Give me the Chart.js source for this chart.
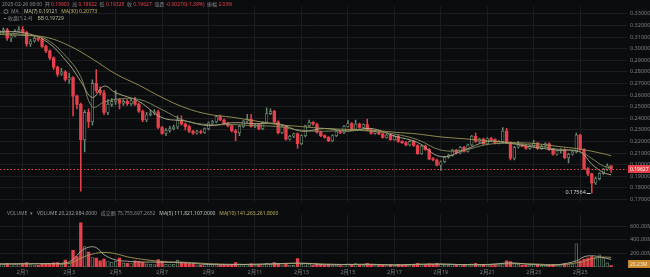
<!DOCTYPE html>
<html>
<head>
<meta charset="utf-8">
<script src="https://cdn.jsdelivr.net/npm/chart.js@4.4.1/dist/chart.umd.min.js"></script>
<style>
  html, body { margin: 0; padding: 0; background: #0b0c0e; }
  #wrap { position: relative; width: 650px; height: 277px; overflow: hidden; }
  #wrap canvas { position: absolute; left: 0; }
</style>
</head>
<body>
<div id="wrap">
  <canvas id="priceChart" width="650" height="208" style="top:0;width:650px;height:208px"></canvas>
  <canvas id="volChart" width="650" height="69" style="top:208px;width:650px;height:69px"></canvas>
</div>
<script>
'use strict';

// 4h candles, index 0 = 2025-01-31 00:00, last = 2025-02-26 08:00
const opens = [
  0.3130, 0.3150, 0.3162, 0.3090, 0.3110, 0.3150, 0.3165, 0.3140, 0.3040, 0.3065,
  0.3090, 0.3080, 0.3020, 0.2980, 0.2920, 0.2840, 0.2780, 0.2800, 0.2735, 0.2750,
  0.2590, 0.2520, 0.2215, 0.2450, 0.2370, 0.2700, 0.2640, 0.2620, 0.2450, 0.2520,
  0.2545, 0.2560, 0.2530, 0.2545, 0.2525, 0.2550, 0.2520, 0.2460, 0.2385, 0.2430,
  0.2445, 0.2455, 0.2320, 0.2270, 0.2295, 0.2310, 0.2325, 0.2380, 0.2350, 0.2328,
  0.2288, 0.2272, 0.2285, 0.2278, 0.2310, 0.2360, 0.2370, 0.2415, 0.2385, 0.2355,
  0.2335, 0.2290, 0.2275, 0.2330, 0.2375, 0.2390, 0.2330, 0.2345, 0.2310, 0.2365,
  0.2440, 0.2460, 0.2370, 0.2275, 0.2330, 0.2220, 0.2245, 0.2265, 0.2180, 0.2250,
  0.2335, 0.2365, 0.2350, 0.2280, 0.2250, 0.2235, 0.2205, 0.2250, 0.2285, 0.2275,
  0.2330, 0.2355, 0.2305, 0.2350, 0.2320, 0.2345, 0.2300, 0.2270, 0.2285, 0.2265,
  0.2235, 0.2255, 0.2215, 0.2245, 0.2200, 0.2190, 0.2170, 0.2200, 0.2165, 0.2095,
  0.2160, 0.2130, 0.2050, 0.2040, 0.1996, 0.2025, 0.2065, 0.2080, 0.2125, 0.2100,
  0.2150, 0.2115, 0.2170, 0.2245, 0.2200, 0.2220, 0.2180, 0.2225, 0.2215, 0.2185,
  0.2200, 0.2290, 0.2190, 0.2055, 0.2150, 0.2170, 0.2160, 0.2140, 0.2160, 0.2185,
  0.2140, 0.2160, 0.2180, 0.2130, 0.2090, 0.2120, 0.2130, 0.2060, 0.2090, 0.2110,
  0.2255, 0.2130, 0.1965, 0.1920, 0.1842, 0.1880, 0.1925, 0.1960, 0.19903
];
const highs = [
  0.3160, 0.3180, 0.3175, 0.3125, 0.3165, 0.3190, 0.3190, 0.3150, 0.3080, 0.3110,
  0.3100, 0.3090, 0.3030, 0.2990, 0.2930, 0.2850, 0.2830, 0.2810, 0.2790, 0.2760,
  0.2600, 0.2530, 0.2470, 0.2480, 0.2730, 0.2820, 0.2670, 0.2640, 0.2560, 0.2570,
  0.2640, 0.2570, 0.2560, 0.2560, 0.2570, 0.2580, 0.2530, 0.2470, 0.2450, 0.2470,
  0.2475, 0.2470, 0.2330, 0.2310, 0.2330, 0.2340, 0.2420, 0.2420, 0.2360, 0.2340,
  0.2295, 0.2295, 0.2295, 0.2318, 0.2368, 0.2382, 0.2425, 0.2428, 0.2395, 0.2365,
  0.2345, 0.2305, 0.2338, 0.2382, 0.2434, 0.2434, 0.2352, 0.2352, 0.2372, 0.2490,
  0.2480, 0.2468, 0.2378, 0.2338, 0.2336, 0.2252, 0.2272, 0.2275, 0.2258, 0.2342,
  0.2385, 0.2372, 0.2358, 0.2288, 0.2258, 0.2242, 0.2258, 0.2292, 0.2292, 0.2338,
  0.2380, 0.2362, 0.2385, 0.2358, 0.2352, 0.2393, 0.2308, 0.2292, 0.2292, 0.2272,
  0.2262, 0.2262, 0.2252, 0.2252, 0.2208, 0.2198, 0.2208, 0.2208, 0.2172, 0.2168,
  0.2168, 0.2138, 0.2062, 0.2048, 0.2032, 0.2072, 0.2088, 0.2132, 0.2132, 0.2158,
  0.2158, 0.2178, 0.2252, 0.2272, 0.2228, 0.2228, 0.2232, 0.2235, 0.2222, 0.2208,
  0.2320, 0.2312, 0.2198, 0.2158, 0.2200, 0.2178, 0.2168, 0.2168, 0.2210, 0.2192,
  0.2168, 0.2188, 0.2188, 0.2138, 0.2128, 0.2138, 0.2138, 0.2098, 0.2118, 0.2272,
  0.2262, 0.2138, 0.1975, 0.1928, 0.1892, 0.1932, 0.1968, 0.2008, 0.19922
];
const lows = [
  0.3120, 0.3130, 0.3070, 0.3060, 0.3100, 0.3140, 0.3130, 0.3020, 0.3020, 0.3055,
  0.3065, 0.3010, 0.2965, 0.2905, 0.2820, 0.2760, 0.2770, 0.2720, 0.2700, 0.2420,
  0.2480, 0.1772, 0.2110, 0.2320, 0.2340, 0.2620, 0.2600, 0.2430, 0.2430, 0.2500,
  0.2520, 0.2480, 0.2510, 0.2510, 0.2510, 0.2510, 0.2450, 0.2370, 0.2370, 0.2420,
  0.2430, 0.2310, 0.2260, 0.2250, 0.2280, 0.2300, 0.2310, 0.2340, 0.2300, 0.2275,
  0.2260, 0.2262, 0.2268, 0.2270, 0.2300, 0.2350, 0.2362, 0.2378, 0.2348, 0.2325,
  0.2282, 0.2207, 0.2250, 0.2320, 0.2365, 0.2322, 0.2318, 0.2300, 0.2302, 0.2355,
  0.2430, 0.2362, 0.2265, 0.2268, 0.2212, 0.2210, 0.2232, 0.2140, 0.2172, 0.2240,
  0.2325, 0.2338, 0.2272, 0.2242, 0.2228, 0.2198, 0.2198, 0.2242, 0.2268, 0.2268,
  0.2322, 0.2298, 0.2298, 0.2312, 0.2312, 0.2292, 0.2262, 0.2262, 0.2258, 0.2228,
  0.2228, 0.2208, 0.2208, 0.2192, 0.2182, 0.2162, 0.2162, 0.2158, 0.2088, 0.2088,
  0.2122, 0.2042, 0.2032, 0.1990, 0.1950, 0.2018, 0.2055, 0.2072, 0.2092, 0.2092,
  0.2108, 0.2108, 0.2162, 0.2192, 0.2192, 0.2172, 0.2172, 0.2208, 0.2178, 0.2178,
  0.2192, 0.2182, 0.2040, 0.2040, 0.2142, 0.2152, 0.2132, 0.2132, 0.2152, 0.2132,
  0.2132, 0.2152, 0.2122, 0.2082, 0.2082, 0.2098, 0.2052, 0.2015, 0.2082, 0.2102,
  0.2122, 0.1958, 0.1905, 0.17564, 0.1830, 0.1868, 0.1915, 0.1950, 0.19325
];
const closes = [
  0.3150, 0.3162, 0.3090, 0.3110, 0.3150, 0.3165, 0.3140, 0.3040, 0.3065, 0.3090,
  0.3080, 0.3020, 0.2980, 0.2920, 0.2840, 0.2780, 0.2800, 0.2735, 0.2750, 0.2590,
  0.2520, 0.2215, 0.2450, 0.2370, 0.2700, 0.2640, 0.2620, 0.2450, 0.2520, 0.2545,
  0.2560, 0.2530, 0.2545, 0.2525, 0.2550, 0.2520, 0.2460, 0.2385, 0.2430, 0.2445,
  0.2455, 0.2320, 0.2270, 0.2295, 0.2310, 0.2325, 0.2380, 0.2350, 0.2328, 0.2288,
  0.2272, 0.2285, 0.2278, 0.2310, 0.2360, 0.2370, 0.2415, 0.2385, 0.2355, 0.2335,
  0.2290, 0.2275, 0.2330, 0.2375, 0.2390, 0.2330, 0.2345, 0.2310, 0.2365, 0.2440,
  0.2460, 0.2370, 0.2275, 0.2330, 0.2220, 0.2245, 0.2265, 0.2180, 0.2250, 0.2335,
  0.2365, 0.2350, 0.2280, 0.2250, 0.2235, 0.2205, 0.2250, 0.2285, 0.2275, 0.2330,
  0.2355, 0.2305, 0.2350, 0.2320, 0.2345, 0.2300, 0.2270, 0.2285, 0.2265, 0.2235,
  0.2255, 0.2215, 0.2245, 0.2200, 0.2190, 0.2170, 0.2200, 0.2165, 0.2095, 0.2160,
  0.2130, 0.2050, 0.2040, 0.1996, 0.2025, 0.2065, 0.2080, 0.2125, 0.2100, 0.2150,
  0.2115, 0.2170, 0.2245, 0.2200, 0.2220, 0.2180, 0.2225, 0.2215, 0.2185, 0.2200,
  0.2290, 0.2190, 0.2055, 0.2150, 0.2170, 0.2160, 0.2140, 0.2160, 0.2185, 0.2140,
  0.2160, 0.2180, 0.2130, 0.2090, 0.2120, 0.2130, 0.2060, 0.2090, 0.2110, 0.2255,
  0.2130, 0.1965, 0.1920, 0.1842, 0.1880, 0.1925, 0.1960, 0.1990, 0.19627
];
// volume in millions
const volumes = [
  45, 40, 55, 35, 40, 45, 50, 65, 35, 30,
  25, 40, 45, 55, 60, 65, 40, 100, 55, 245,
  155, 650, 300, 220, 140, 130, 90, 115, 80, 70,
  85, 130, 60, 55, 50, 90, 85, 70, 45, 40,
  35, 110, 85, 40, 35, 40, 100, 60, 55, 45,
  40, 30, 30, 35, 40, 35, 45, 30, 35, 25,
  40, 65, 45, 40, 35, 45, 25, 30, 35, 55,
  40, 65, 55, 30, 50, 25, 25, 125, 40, 50,
  45, 25, 45, 35, 25, 40, 30, 25, 20, 35,
  45, 40, 50, 30, 25, 55, 40, 25, 30, 35,
  20, 35, 25, 40, 30, 35, 25, 40, 55, 40,
  30, 45, 35, 55, 45, 30, 25, 35, 30, 30,
  40, 35, 45, 55, 30, 40, 30, 20, 30, 25,
  50, 90, 80, 55, 40, 25, 30, 25, 35, 40,
  25, 30, 35, 40, 25, 30, 45, 40, 35, 340,
  90, 115, 130, 155, 140, 180, 125, 60, 20.23
];

// moving-average lines (candle index -> value)
const ma7Idx = [0, 6, 12, 18, 21, 24, 27, 30, 36, 42, 48, 54, 60, 66, 72, 78, 84, 90, 96, 102, 108, 114, 120, 126, 132, 138, 144, 150, 153, 156, 158];
const ma7 = [0.3146, 0.3138, 0.3065, 0.2863, 0.2717, 0.2579, 0.2677, 0.2620, 0.2545, 0.2405, 0.2377, 0.2336, 0.2361, 0.2353, 0.2353, 0.2288, 0.2312, 0.2288, 0.2312, 0.2247, 0.2191, 0.2069, 0.2125, 0.2199, 0.2183, 0.2150, 0.2126, 0.2110, 0.2004, 0.1932, 0.19121];
const bbIdx = [0, 6, 12, 18, 21, 24, 27, 30, 36, 42, 48, 54, 60, 66, 72, 78, 84, 90, 96, 102, 108, 114, 120, 126, 132, 138, 144, 150, 153, 156, 158];
const bbLine = [0.3138, 0.3122, 0.3081, 0.2903, 0.2757, 0.2498, 0.2539, 0.2563, 0.2563, 0.2474, 0.2377, 0.2345, 0.2345, 0.2336, 0.2328, 0.2296, 0.2288, 0.2296, 0.2288, 0.2264, 0.2215, 0.2126, 0.2126, 0.2174, 0.2183, 0.2166, 0.2134, 0.2110, 0.2053, 0.1988, 0.19729];
const ma30Idx = [0, 6, 12, 18, 24, 30, 36, 42, 48, 54, 60, 66, 72, 78, 84, 90, 96, 102, 108, 114, 120, 126, 132, 138, 144, 150, 156, 158];
const ma30 = [0.3122, 0.3114, 0.3098, 0.3025, 0.2911, 0.2782, 0.2685, 0.2579, 0.2490, 0.2434, 0.2409, 0.2377, 0.2345, 0.2328, 0.2312, 0.2304, 0.2296, 0.2280, 0.2264, 0.2239, 0.2223, 0.2207, 0.2191, 0.2183, 0.2158, 0.2134, 0.2094, 0.20773];
const vma5Idx = [0, 6, 12, 17, 19, 21, 23, 25, 27, 30, 33, 36, 42, 48, 54, 60, 66, 72, 78, 84, 90, 96, 102, 108, 114, 120, 126, 132, 138, 144, 149, 151, 153, 155, 158];
const vma5 = [45, 48, 50, 60, 110, 230, 290, 285, 180, 105, 85, 75, 70, 60, 38, 35, 40, 50, 55, 35, 38, 40, 30, 40, 42, 35, 35, 60, 35, 33, 90, 150, 165, 150, 111.8];
const vma10Idx = [0, 6, 12, 18, 21, 24, 27, 30, 33, 36, 42, 48, 54, 60, 66, 72, 78, 84, 90, 96, 102, 108, 114, 120, 126, 132, 138, 144, 150, 153, 156, 158];
const vma10 = [45, 46, 48, 55, 130, 190, 215, 195, 150, 120, 82, 70, 50, 40, 40, 45, 55, 45, 36, 38, 32, 38, 42, 36, 38, 48, 45, 34, 70, 120, 145, 141.3];

// axis ticks
const dateTickPos = [6, 18, 30, 42, 54, 66, 78, 90, 102, 114, 126, 138, 150];
const dateTicks = ['2月1', '2月3', '2月5', '2月7', '2月9', '2月11', '2月13', '2月15', '2月17', '2月19', '2月21', '2月23', '2月25'];
const priceTicks = [0.33, 0.32, 0.31, 0.30, 0.29, 0.28, 0.27, 0.26, 0.25, 0.24, 0.23, 0.22, 0.21, 0.20, 0.19, 0.18, 0.17];
const volTicks = [200, 400, 600];

const RED = '#e4414b';
const UP = '#66866f';
const BG = '#0b0c0e';
const GRID = '#1b1d21';
const AXIS_TXT = '#7b817f';
const LABEL = '#868a90';
const FONT = "'Noto Sans', 'Noto Sans CJK SC', sans-serif";
const X_MIN = 0.13, X_MAX = 162.1;
const AXIS_W = 23;

const isUp = i => closes[i] >= opens[i];
const pts = (idx, vals) => idx.map((x, k) => ({ x: x, y: vals[k] }));

function xScale(showLabels) {
  return {
    type: 'linear',
    min: X_MIN,
    max: X_MAX,
    offset: false,
    afterBuildTicks(s) { s.ticks = dateTickPos.map(v => ({ value: v })); },
    afterFit(s) { s.height = showLabels ? 10 : 0; },
    ticks: {
      display: showLabels,
      autoSkip: false,
      maxRotation: 0,
      padding: 2,
      color: AXIS_TXT,
      font: { size: 5.5, family: FONT },
      callback: (v, i) => dateTicks[i]
    },
    grid: { color: GRID, drawTicks: false, offset: false, lineWidth: 1 },
    border: { display: false }
  };
}

function segText(ctx, x, y, segs) {
  segs.forEach(([t, c]) => {
    ctx.fillStyle = c;
    ctx.fillText(t, x, y);
    x += ctx.measureText(t).width;
  });
}

function tag(ctx, yPix, text, fill, txtColor) {
  ctx.fillStyle = fill;
  ctx.fillRect(628, Math.round(yPix) - 4, 22, 8);
  ctx.fillStyle = txtColor;
  ctx.textAlign = 'left';
  ctx.textBaseline = 'middle';
  ctx.fillText(text, 630, Math.round(yPix) + 0.5);
}

const priceOverlay = {
  id: 'priceOverlay',
  afterDatasetsDraw(chart) {
    const { ctx, chartArea, scales: { x, y } } = chart;
    const last = closes[closes.length - 1];
    const yLast = Math.round(y.getPixelForValue(last)) + 0.5;
    ctx.save();
    // dotted last-price line
    ctx.strokeStyle = RED;
    ctx.lineWidth = 1;
    ctx.setLineDash([1.5, 2]);
    ctx.beginPath();
    ctx.moveTo(chartArea.left, yLast);
    ctx.lineTo(chartArea.right, yLast);
    ctx.stroke();
    ctx.setLineDash([]);

    // lowest low marker
    let lo = 0;
    lows.forEach((v, i) => { if (v < lows[lo]) lo = i; });
    const xl = x.getPixelForValue(lo), yl = y.getPixelForValue(lows[lo]);
    ctx.strokeStyle = '#c8c8c8';
    ctx.beginPath();
    ctx.moveTo(xl - 5, Math.round(yl) + 0.5);
    ctx.lineTo(xl - 1, Math.round(yl) + 0.5);
    ctx.stroke();
    ctx.font = '5.5px ' + FONT;
    ctx.fillStyle = '#d0d0d0';
    ctx.textAlign = 'right';
    ctx.textBaseline = 'middle';
    ctx.fillText(lows[lo].toFixed(5), xl - 6, yl);
    ctx.restore();
  },
  afterDraw(chart) {
    const { ctx, scales: { y } } = chart;
    ctx.save();
    ctx.font = '5px ' + FONT;
    tag(ctx, y.getPixelForValue(closes[closes.length - 1]), closes[closes.length - 1].toFixed(5), RED, '#ffffff');

    ctx.textAlign = 'left';
    ctx.textBaseline = 'middle';
    ctx.font = '5px ' + FONT;
    segText(ctx, 2, 4.5, [
      ['2025-02-26 08:00  ', LABEL], ['开 ', LABEL], ['0.19903', RED],
      ['  高 ', LABEL], ['0.19922', RED], ['  低 ', LABEL], ['0.19325', RED],
      ['  收 ', LABEL], ['0.19627', RED], ['  涨跌 ', LABEL], ['-0.00276(-1.39%)', RED],
      ['  振幅 ', LABEL], ['2.03%', RED]
    ]);
    ctx.strokeStyle = LABEL;
    ctx.lineWidth = 0.8;
    ctx.beginPath();
    ctx.arc(6, 11.5, 2, 0, Math.PI * 2);
    ctx.stroke();
    segText(ctx, 11, 11.5, [
      ['MA    ', LABEL], ['MA(7) 0.19121', '#c9c6a4'], ['   ', LABEL], ['MA(30) 0.20773', '#bdb25a']
    ]);
    ctx.fillStyle = LABEL;
    ctx.fillRect(4, 18, 2, 1);
    segText(ctx, 8, 18.5, [
      ['收盘(1,2,4)    ', LABEL], ['BB 0.19729', '#b2b994']
    ]);
    ctx.restore();
  }
};

const volOverlay = {
  id: 'volOverlay',
  afterDraw(chart) {
    const { ctx, scales: { y } } = chart;
    ctx.save();
    ctx.font = '5px ' + FONT;
    tag(ctx, y.getPixelForValue(volumes[volumes.length - 1]) - 2, '20.23M', '#c98a2c', '#f4eee0');
    ctx.textAlign = 'left';
    ctx.textBaseline = 'middle';
    segText(ctx, 7, 5.5, [
      ['VOLUME  ▾   ', LABEL], ['VOLUME 20,232,984.0000   ', '#9a9ea3'],
      ['成交额 75,755,697.2652   ', LABEL], ['MA(5) 111,821,107.0000   ', '#c4c4b8'],
      ['MA(10) 141,263,261.8000', '#bdb25a']
    ]);
    ctx.restore();
  }
};

const lineStyle = (color) => ({
  type: 'line', borderColor: color, borderWidth: 0.9, pointRadius: 0,
  tension: 0.4, fill: false, order: 0
});

new Chart(document.getElementById('priceChart'), {
  type: 'bar',
  data: {
    datasets: [
      Object.assign(lineStyle('#9c9856'), { data: pts(ma30Idx, ma30) }),
      Object.assign(lineStyle('#848f62'), { data: pts(bbIdx, bbLine) }),
      Object.assign(lineStyle('#b3b08c'), { data: pts(ma7Idx, ma7) }),
      {
        data: opens.map((o, i) => ({ x: i, y: [o, closes[i]] })),
        grouped: false,
        barThickness: 2.7,
        minBarLength: 0.8,
        borderSkipped: false,
        backgroundColor: c => isUp(c.dataIndex) ? BG : RED,
        borderColor: UP,
        borderWidth: c => isUp(c.dataIndex) ? 0.8 : 0,
        order: 1
      },
      {
        data: highs.map((h, i) => ({ x: i, y: [lows[i], h] })),
        grouped: false,
        barThickness: 0.9,
        backgroundColor: c => isUp(c.dataIndex) ? UP : RED,
        borderWidth: 0,
        order: 2
      }
    ]
  },
  options: {
    responsive: false,
    animation: false,
    devicePixelRatio: 1,
    events: [],
    layout: { padding: 0 },
    plugins: { legend: { display: false }, tooltip: { enabled: false } },
    scales: {
      x: xScale(false),
      y: {
        position: 'right',
        min: 0.16806,
        max: 0.33648,
        afterBuildTicks(s) { s.ticks = priceTicks.map(v => ({ value: v })); },
        afterFit(s) { s.width = AXIS_W; },
        ticks: {
          color: AXIS_TXT,
          padding: 3,
          font: { size: 5.5, family: FONT },
          callback: v => v.toFixed(5)
        },
        grid: { color: GRID, drawTicks: false },
        border: { display: false }
      }
    }
  },
  plugins: [priceOverlay]
});

new Chart(document.getElementById('volChart'), {
  type: 'bar',
  data: {
    datasets: [
      Object.assign(lineStyle('#aeae98'), { data: pts(vma5Idx, vma5) }),
      Object.assign(lineStyle('#a49a52'), { data: pts(vma10Idx, vma10) }),
      {
        data: volumes.map((v, i) => ({ x: i, y: v })),
        grouped: false,
        barThickness: 2.7,
        borderSkipped: false,
        backgroundColor: c => isUp(c.dataIndex) ? BG : RED,
        borderColor: UP,
        borderWidth: c => isUp(c.dataIndex) ? 0.8 : 0,
        order: 1
      }
    ]
  },
  options: {
    responsive: false,
    animation: false,
    devicePixelRatio: 1,
    events: [],
    layout: { padding: 0 },
    plugins: { legend: { display: false }, tooltip: { enabled: false } },
    scales: {
      x: xScale(true),
      y: {
        position: 'right',
        min: 0,
        max: 775,
        afterBuildTicks(s) { s.ticks = volTicks.map(v => ({ value: v })); },
        afterFit(s) { s.width = AXIS_W; },
        ticks: {
          color: AXIS_TXT,
          padding: 3,
          font: { size: 5.5, family: FONT },
          callback: v => v.toFixed(2) + 'M'
        },
        grid: { color: GRID, drawTicks: false },
        border: { display: false }
      }
    }
  },
  plugins: [volOverlay]
});
</script>
</body>
</html>
